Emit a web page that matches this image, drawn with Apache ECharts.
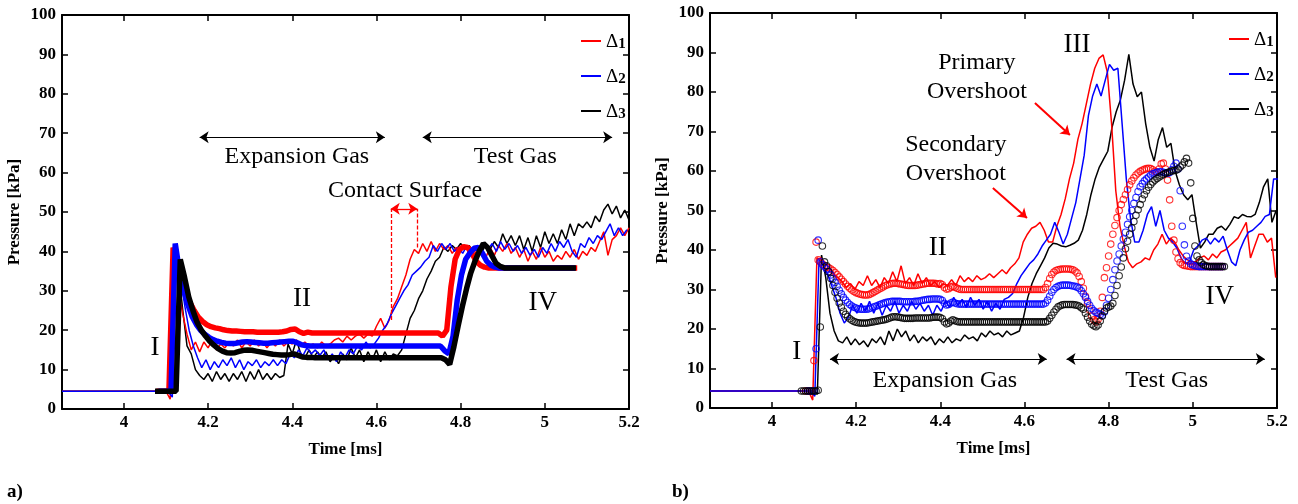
<!DOCTYPE html>
<html><head><meta charset="utf-8">
<script src="https://cdn.jsdelivr.net/npm/echarts@6/dist/echarts.min.js"></script>
<style>html,body{margin:0;padding:0;background:#fff}#c{width:1298px;height:504px}</style>
</head><body><div id="c"></div>
<script>
// ---------------- data ----------------
const xTicks = [4, 4.2, 4.4, 4.6, 4.8, 5, 5.2];
const seriesNames = ['Δ1', 'Δ2', 'Δ3'];
const baseA = 4.5;   // pre-shock pressure, panel a
const baseB = 4.3;   // pre-shock pressure, panel b
const DT = 0.01, DTS = 0.005;

// panel a) experiment (thin lines), uniform 0.01 ms from start time
const aExpRedStart = 4.10;
const aExpRed = [4.5,2.5,39,30,24,19,15,17,14.5,17, 15.5,17.5,15,16.5,15.5,17,16,17.5,15.5,17, 16,17.5,16,17,15.5,17,16,17.5,16,17,
 16.5,17.5,16,17,16,16.5,15.5,17,16,16.5, 17.5,18,17,18.5,17.5,18.5,19,18,19,18.5, 21,23,20.5,22.5,26,28,31,34,38,40.5,
 39.5,42,40,42.5,40,42,40.5,41.5,39.5,41, 40,41.5,39.5,41,38.5,40,38.5,41,39,41.5, 40,42,39.5,41,38.5,40.5,37.5,40,38,41,
 38.5,40,37.5,39,38,40,38.5,40.5,38,40, 39,41,40,42.5,45,39,43,44,46,44,46];
const aExpBlueStart = 4.105;
const aExpBlue = [4.5,3,40,33,26,20,16,13,10.5,12.5, 10,12,10.5,12.5,11,13,10.5,12.5,10,12, 11,12.5,10.5,12,11,12.5,11,12.5,11.5,14,
 13,15,13.5,15.5,14,15,13.5,15,12.5,14, 12,14.5,13,15,14,16,15,17,15.5,16.5, 18,20,21.5,24,26,28,30,31.5,34,35,
 36,37.5,38.5,41.5,40,42,40.5,42,40,41, 39.5,41.5,40,41,40,42,40.5,42,40,42.5, 40.5,42,40,41.5,39.5,41,39,40.5,38.5,41,
 39.5,42,40,42.5,41,43,40,38.5,42,41, 43.5,42,44,43,45,47,44,46,44,45.5];
const aExpBlackStart = 4.11;
const aExpBlack = [4.5,4,35,25,16,14,10,8.5,7.5,9, 7,9.5,7.5,9,7,9,7.5,9.5,7,9.5, 7.5,10,7.5,9,7.5,9,8,8.5,16.5,14,
 17.5,14,13,15,13,14.5,13,14.5,12,13.5, 11.5,14,12.5,15.5,13,15,12,14.5,12.5,15, 12,14.5,12.5,14,13.5,15,19,23,25,28,
 30,33,35,37.5,38.5,41,40,41.5,40.5,42, 40.5,41.5,40,41.5,39.5,42,40.5,42.5,41,44.5, 42,44,41.5,44,40.5,43.5,40,44,41,45,
 42,44.5,42,45.5,43,47,44,47,46,47.5, 46,49,47.5,50.5,52,49.5,51.5,48.5,50.5,48];

// panel a) simulation (thick lines), uniform 0.01 ms
const aSimRedStart = 4.077;
const aSimRed = [4.5,4.5,4.5,4.5,41,37,33,29.5,27,25, 23.3,22.2,21.4,20.9,20.6,20.4,20.1,19.9,19.8,19.8,
 19.7,19.6,19.6,19.6,19.5,19.5,19.5,19.5,19.5,19.5, 19.6,19.8,20.2,20.3,19.6,19.2,19.5,19.3,19.3,19.3,
 19.3,19.3,19.3,19.3,19.3,19.3,19.3,19.3,19.3,19.3, 19.3,19.3,19.3,19.3,19.3,19.3,19.3,19.3,19.3,19.3,
 19.3,19.3,19.3,19.3,19.3,19.3,19.3,19.3,18.5,20, 31,38,40.5,41.2,41,39.5,37.5,36.5,36,35.8,
 35.8,35.8,35.8,35.8,35.8,35.8,35.8,35.8,35.8,35.8, 35.8,35.8,35.8,35.8,35.8,35.8,35.8,35.8,35.8,35.8,35.8];
const aSimBlueStart = 4.082;
const aSimBlue = [4.5,4.5,4.5,4.5,42,35,30,26.5,23.5,21.5, 20,19,18.2,17.6,17.2,16.9,16.7,16.6,16.6,16.8,
 17,17.1,17,16.9,16.8,16.7,16.7,16.8,16.9,17, 17.1,17.2,17.2,16.8,16.3,16.1,16,16,16,16,
 16,16,16,16,16,16,16,16,16,16, 16,16,16,16,16,16,16,16,16,16,
 16,16,16,16,16,16,16,16,14.8,14, 18.5,27.7,34,38,39.6,40.8,41,39.5,37.5,36.5,
 36,35.8,35.8,35.8,35.8,35.8,35.8,35.8,35.8,35.8, 35.8,35.8,35.8,35.8,35.8,35.8,35.8,35.8,35.8,35.8];
const aSimBlackStart = 4.074;
const aSimBlack = [4.5,4.5,4.5,4.5,4.5,4.5,38,33.5,28.5,25, 22,20,18.5,17.2,16.2,15.3,14.7,14.3,14.2,14.3,
 14.6,14.9,15,14.9,14.7,14.5,14.3,14.1,13.9,13.8, 13.7,13.7,13.8,14,13.6,13.2,13.1,13.1,13,13,
 13,13,13,13,13,13,13,13,13,13, 13,13,13,13,13,13,13,13,13,13,
 13,13,13,13,13,13,13,13,13,12.5, 11.3,15.8,21,26,30.5,34.5,37.5,40,42,41,
 39,37,36.2,35.8,35.8,35.8,35.8,35.8,35.8,35.8, 35.8,35.8,35.8,35.8,35.8,35.8,35.8,35.8,35.8,35.8,35.8];

// panel b) experiment (thin lines), uniform 0.01 ms
const bExpRedStart = 4.087;
const bExpRed = [4.3,2,38,37.5,36.5,35.5,34,33,32,30.5, 31.5,30,32,31,33.5,31,32.5,30.5,33,31.5,
 34.5,32,36,31.5,33,31,34,31.5,33,31, 32,30.5,31.5,31,32.5,31,33.5,32,33,32,
 33.5,32.5,33,34,33,34,35,34,35.5,36.5, 38,42,44,45.5,46,47,45,42,42,46,
 49,53,58,62,68,72,77,82,86,88.5, 89.4,85,72,55,46,41,37,35.5,36.5,37,
 38,37.5,40,41.5,44,41.5,43,42,40,38.5, 37.5,37,37,38,38.5,37.5,39,38,39.5,40,
 41,42,43,45,47,38,41,44,44,42,43,33];
const bExpBlueStart = 4.092;
const bExpBlue = [4.3,3,37.5,36,34,31,28,24,21.5,23, 26,24,26.5,24.5,27,24,26.5,23.5,26,24.5,
 27,24,26,24.5,27,25,26.5,24.5,26,23.5, 26,24.5,27,25.5,28,26,27.5,25.5,28,26,
 27.5,25,27,24.5,26.5,25,27.5,28,29,31.5, 33.5,35,36.5,37.5,39,41,42.5,44,47,44.5,
 41.5,44,48,52,58,64,74,79,82,79, 83,87,85.5,86,72,58,48,42,42,45,
 49,51,46,50,45,43,42,40.5,38,36.5, 37,40,41,42.5,43,41.5,43,42,43.5,40,
 37,36,40,42.5,44.5,45,46,47,48.5,49,58,58];
const bExpBlackStart = 4.098;
const bExpBlack = [4.3,3.5,38.7,33,24,19.5,17,16.5,18,16, 17.5,16,17,15.5,17.5,16.5,18,16,19.5,17,
 20,18,19.5,17,18.5,16.5,18,17,18,16, 17.5,16.5,18,16.5,17.5,17,18.5,17.5,18,17,
 19,18,19.5,18.5,19,18,19.5,18.5,19,19.5, 23,28,31.5,34,36,38,40.5,41.7,41.5,41,
 40.8,41.2,41.7,42.5,45,49,54,58,61,63, 65,71,75,78,83,89.5,82,78.8,80,72,
 66,62.5,68,71,66,67,60,56.5,54,52.7, 54,47,40.5,42,44,44,45.5,46,45,46.5,
 48.4,48,49,48.5,48.4,49,52,56,58,47,50];

// panel b) simulation (circles), uniform 0.005 ms
const bSimRedStart = 4.080;
const bSimRed = [4.3,4.3,4.3,4.3,12,42,37.5,37,36.5,36, 35.7,35.5,35.2,34.8,34.3,33.8,33.2,32.6,32,31.4,
 30.8,30.3,29.9,29.5,29.2,29,28.8,28.7,28.6,28.6, 28.7,28.9,29.2,29.5,29.8,30.1,30.4,30.7,31,31.2,
 31.4,31.5,31.6,31.6,31.5,31.4,31.3,31.2,31.1,31, 31,31,31,31.1,31.2,31.3,31.4,31.5,31.6,31.6,
 31.6,31.6,31.5,31.4,31.5,31.2,30.5,30.1,30.2,30.6, 30.8,30.6,30.3,30.1,30,30,30,30,30,30,
 30,30,30,30,30,30,30,30,30,30, 30,30,30,30,30,30,30,30,30,30, 30,30,30,30,30,30,30,30,30,30,
 30,30,30,30,30.5,31.5,32.8,33.8,34.4,34.8, 35,35.1,35.2,35.2,35.2,35.2,35.1,35,34.7,34.2,
 33.3,32,30.3,28.3,26.5,24.8,23.3,22.3,21.8,22.5, 24.5,28,33,35.5,38.5,41.5,44,46.2,48.2,50,
 51.5,52.8,54,55.3,56.5,57.5,58.3,59,59.5,59.9, 60.2,60.4,60.6,60.7,60.6,60.3,59.9,59.7,60.5,61.8,
 62,60.5,57.7,52.7,46,42.5,39.5,37.8,36.8,36.3, 36.1,36,35.9,35.8,35.8,35.8,35.8,35.8,35.8,35.8,
 35.8,35.8,35.8,35.8,35.8,35.8,35.8,35.8,35.8];
const bSimBlueStart = 4.085;
const bSimBlue = [4.3,4.3,4.3,4.3,15,42.5,37,36.3,35.8,35.2, 34.5,33.7,32.8,31.8,30.8,29.8,28.9,28,27.3,26.7,
 26.2,25.8,25.5,25.3,25.1,25,25,25,25,25.1, 25.3,25.5,25.7,25.9,26.1,26.3,26.5,26.7,26.8,26.9,
 27,27,27,27,27,26.9,26.9,26.9,26.9,26.9, 26.9,27,27,27.1,27.2,27.3,27.4,27.5,27.5,27.6,
 27.6,27.6,27.6,27.5,27.2,26.5,26.1,26.2,26.6,26.8, 26.6,26.4,26.3,26.3,26.3,26.3,26.3,26.3,26.3,26.3,
 26.3,26.3,26.3,26.3,26.3,26.3,26.3,26.3,26.3,26.3, 26.3,26.3,26.3,26.3,26.3,26.3,26.3,26.3,26.3,26.3,
 26.3,26.3,26.3,26.3,26.3,26.3,26.3,26.3,26.3,26.3, 26.3,26.3,26.3,26.6,27.3,28.3,29.3,30,30.5,30.8,
 31,31.1,31.1,31.1,31.1,31,30.9,30.8,30.6,30.3, 29.7,28.9,28,27,26,25.2,24.6,24.2,24,23.7,
 23.5,24.3,26,27.8,30,32.5,35,37.2,39,41, 42.8,44.5,46.5,48.4,50,51.8,53.3,54.8,56,56.8,
 57.5,58,58.5,59,59.3,59.5,59.7,59.8,59.8,59.7, 59.5,59.4,59.6,60.3,61.2,62,60.5,55,46,41.3,
 38.4,37.2,36.5,36.2,36,35.9,35.8,35.8,35.8,35.8, 35.8,35.8,35.8,35.8,35.8,35.8,35.8,35.8];
const bSimBlackStart = 4.070;
const bSimBlack = [4.3,4.3,4.3,4.3,4.3,4.3,4.3,4.3,4.5,20.5, 41,37,36,34.5,32.8,31,29.3,27.8,26.6,25.5,
 24.5,23.7,23.1,22.6,22.2,21.9,21.7,21.6,21.5,21.5, 21.5,21.5,21.6,21.7,21.8,21.9,22,22.1,22.2,22.3,
 22.4,22.6,22.8,23,23.1,23.1,23,22.9,22.8,22.7, 22.7,22.7,22.7,22.7,22.8,22.8,22.8,22.8,22.8,22.8,
 22.8,22.8,22.9,23,23,23,22.9,22.6,21.8,21.3, 21.5,22,22.3,22.1,21.9,21.8,21.8,21.8,21.8,21.8,
 21.8,21.8,21.8,21.8,21.8,21.8,21.8,21.8,21.8,21.8, 21.8,21.8,21.8,21.8,21.8,21.8,21.8,21.8,21.8,21.8,
 21.8,21.8,21.8,21.8,21.8,21.8,21.8,21.8,21.8,21.8, 21.8,21.8,21.8,21.8,21.8,21.8,21.8,22,22.7,23.5,
 24.3,25,25.6,25.9,26.1,26.2,26.2,26.2,26.2,26.2, 26.1,26,25.8,25.4,25,24,23,22,21.2,20.8,
 20.6,21,22,23.3,24.5,25.3,25.6,25.8,26.5,28.5, 31,33.5,35.7,38,40.3,42.2,44,45.6,47.2,48.8,
 50.2,51.5,52.9,54,55,55.9,56.6,57.2,57.7,58.1, 58.5,58.8,59.1,59.4,59.6,59.8,60,60.1,60.2,60.5,
 61,61.5,62.3,63.2,62,57,48,41,38.5,37.5, 36.8,36.3,36,35.9,35.8,35.8,35.8,35.8,35.8,35.8,35.8,35.8];

// ---------------- chart ----------------
const FONT = '"Liberation Serif", "Times New Roman", serif';
const RED = '#ff0000', BLUE = '#0000ff', BLACK = '#000000';
const X_MIN = 3.853, X_MAX = 5.2;

function seq(start, step, vals, lead) {
  const out = vals.map((v, i) => [Math.round((start + i * step) * 10000) / 10000, v]);
  if (lead !== undefined) out.unshift([X_MIN, lead]);
  return out;
}

function xAxesFor(gi) {
  const common = {
    type: 'value', gridIndex: gi, min: X_MIN, max: X_MAX,
    axisLine: { show: true, onZero: false, lineStyle: { color: '#000', width: 2 } },
    axisTick: { show: true, inside: true, length: 6, customValues: xTicks, lineStyle: { color: '#000', width: 1.5 } },
    splitLine: { show: false }
  };
  return [
    Object.assign({}, common, {
      position: 'bottom',
      axisLabel: { show: true, customValues: xTicks, formatter: v => String(v), color: '#000',
        fontFamily: FONT, fontWeight: 'bold', fontSize: 17, margin: 5 },
      name: 'Time [ms]', nameLocation: 'middle', nameGap: 32,
      nameTextStyle: { color: '#000', fontFamily: FONT, fontWeight: 'bold', fontSize: 17 }
    }),
    Object.assign({}, common, { position: 'top', axisLabel: { show: false } })
  ];
}
function yAxesFor(gi) {
  const common = {
    type: 'value', gridIndex: gi, min: 0, max: 100, interval: 10,
    axisLine: { show: true, onZero: false, lineStyle: { color: '#000', width: 2 } },
    axisTick: { show: true, inside: true, length: 6, lineStyle: { color: '#000', width: 1.5 } },
    splitLine: { show: false }
  };
  return [
    Object.assign({}, common, {
      position: 'left',
      axisLabel: { show: true, color: '#000', fontFamily: FONT, fontWeight: 'bold', fontSize: 17, margin: 6 },
      name: 'Pressure [kPa]', nameLocation: 'middle', nameGap: 39, nameRotate: 90,
      nameTextStyle: { color: '#000', fontFamily: FONT, fontWeight: 'bold', fontSize: 17 }
    }),
    Object.assign({}, common, { position: 'right', axisLabel: { show: false } })
  ];
}

function expLine(name, color, data, xi, yi) {
  return { type: 'line', name, data, xAxisIndex: xi, yAxisIndex: yi, symbol: 'none', showSymbol: false,
    lineStyle: { color, width: 1.5 }, itemStyle: { color }, z: 2, silent: true };
}
function simLine(name, color, data) {
  return { type: 'line', name, data, xAxisIndex: 0, yAxisIndex: 0, symbol: 'none', showSymbol: false,
    lineStyle: { color, width: 5.5 }, itemStyle: { color }, z: 3, silent: true };
}
function simCircles(name, color, data) {
  return { type: 'scatter', name, data, xAxisIndex: 2, yAxisIndex: 2, symbol: 'circle', symbolSize: 6.5,
    itemStyle: { color: 'rgba(255,255,255,0)', borderColor: color, borderWidth: 1.1 }, z: 3, silent: true };
}

const textLabel = { show: true, position: 'inside', formatter: '{b}', color: '#000', fontFamily: FONT,
  fontSize: 24, lineHeight: 29, textBorderWidth: 0 };
const roman = { label: { fontSize: 27 } };
const blackArrow = { color: '#000', width: 1, type: 'solid' };
const redDash = { color: RED, width: 1.3, type: [4, 2] };
const redArrow = { color: RED, width: 2, type: 'solid' };

function annot(id, xi, yi, style, lines, texts) {
  const s = { type: 'line', name: 'annot' + id, data: [], xAxisIndex: xi, yAxisIndex: yi, silent: true, z: 5,
    markLine: { silent: true, animation: false, symbolSize: 9, label: { show: false },
      lineStyle: style, itemStyle: { color: style.color }, emphasis: { disabled: true }, data: lines } };
  if (texts) {
    s.markPoint = { silent: true, animation: false, symbol: 'circle', symbolSize: 1,
      itemStyle: { color: 'rgba(0,0,0,0)' }, label: textLabel, data: texts };
  }
  return s;
}
function arrow2(a, b) { return [{ coord: a, symbol: 'arrow' }, { coord: b, symbol: 'arrow' }]; }
function arrow1(a, b) { return [{ coord: a, symbol: 'none' }, { coord: b, symbol: 'arrow' }]; }
function plain(a, b) { return [{ coord: a, symbol: 'none' }, { coord: b, symbol: 'none' }]; }

const annotA = annot('A', 0, 0, blackArrow, [
  arrow2([4.18, 69], [4.62, 69]),
  arrow2([4.71, 69], [5.16, 69])
], [
  { name: 'Expansion Gas', coord: [4.411, 64] },
  { name: 'Test Gas', coord: [4.93, 64] },
  { name: 'Contact Surface', coord: [4.668, 55.5] },
  Object.assign({ name: 'I', coord: [4.074, 15.5] }, roman),
  Object.assign({ name: 'II', coord: [4.423, 28] }, roman),
  Object.assign({ name: 'IV', coord: [4.995, 27] }, roman)
]);
const annotAdash = annot('Ad', 0, 0, redDash, [
  plain([4.634, 22.6], [4.634, 50.8]),
  plain([4.697, 41], [4.697, 50.8])
]);
const annotAred = annot('Ar', 0, 0, { color: RED, width: 1.3, type: 'solid' }, [
  arrow2([4.634, 50.8], [4.697, 50.8])
]);
const annotB = annot('B', 2, 2, blackArrow, [
  arrow2([4.138, 12.4], [4.653, 12.4]),
  arrow2([4.70, 12.4], [5.171, 12.4])
], [
  { name: 'Expansion Gas', coord: [4.411, 7] },
  { name: 'Test Gas', coord: [4.938, 7] },
  { name: 'Primary\nOvershoot', coord: [4.487, 83.8] },
  { name: 'Secondary\nOvershoot', coord: [4.437, 63] },
  Object.assign({ name: 'III', coord: [4.725, 92] }, roman),
  Object.assign({ name: 'II', coord: [4.394, 40.5] }, roman),
  Object.assign({ name: 'I', coord: [4.059, 14.2] }, roman),
  Object.assign({ name: 'IV', coord: [5.064, 28] }, roman)
]);
const annotBred = annot('Br', 2, 2, redArrow, [
  arrow1([4.625, 77.2], [4.708, 69.1]),
  arrow1([4.525, 55.7], [4.606, 48.1])
]);

function legendAt(left, top) {
  return {
    data: seriesNames, left, top, orient: 'vertical', icon: 'rect', itemWidth: 20, itemHeight: 2,
    itemGap: 3, selectedMode: false, padding: 0,
    formatter: n => '{d|Δ}{s|' + n.slice(1) + '}',
    textStyle: { rich: {
      d: { fontFamily: FONT, fontSize: 19, color: '#000', verticalAlign: 'bottom', lineHeight: 22 },
      s: { fontFamily: FONT, fontSize: 15, fontWeight: 'bold', color: '#000', verticalAlign: 'bottom',
        lineHeight: 15, padding: [17, 0, 0, 0] }
    } }
  };
}

const option = {
  animation: false,
  backgroundColor: '#fff',
  grid: [
    { left: 62, top: 15, width: 567, height: 394 },
    { left: 710, top: 13, width: 567, height: 395 }
  ],
  xAxis: xAxesFor(0).concat(xAxesFor(1)),
  yAxis: yAxesFor(0).concat(yAxesFor(1)),
  legend: [legendAt(581, 20), legendAt(1229, 18)],
  series: [
    expLine('Δ3', BLACK, seq(aExpBlackStart, DT, aExpBlack, baseA), 0, 0),
    expLine('Δ1', RED, seq(aExpRedStart, DT, aExpRed, baseA), 0, 0),
    expLine('Δ2', BLUE, seq(aExpBlueStart, DT, aExpBlue, baseA), 0, 0),
    simLine('sim1', RED, seq(aSimRedStart, DT, aSimRed)),
    simLine('sim2', BLUE, seq(aSimBlueStart, DT, aSimBlue)),
    simLine('sim3', BLACK, seq(aSimBlackStart, DT, aSimBlack)),
    expLine('Δ3', BLACK, seq(bExpBlackStart, DT, bExpBlack, baseB), 2, 2),
    expLine('Δ1', RED, seq(bExpRedStart, DT, bExpRed, baseB), 2, 2),
    expLine('Δ2', BLUE, seq(bExpBlueStart, DT, bExpBlue, baseB), 2, 2),
    simCircles('sim1', RED, seq(bSimRedStart, DTS, bSimRed)),
    simCircles('sim2', BLUE, seq(bSimBlueStart, DTS, bSimBlue)),
    simCircles('sim3', BLACK, seq(bSimBlackStart, DTS, bSimBlack)),
    annotA, annotAdash, annotAred, annotB, annotBred
  ],
  graphic: [
    { type: 'text', left: 7, top: 483, style: { text: 'a)', font: 'bold 19px ' + FONT, fill: '#000' } },
    { type: 'text', left: 672, top: 483, style: { text: 'b)', font: 'bold 19px ' + FONT, fill: '#000' } }
  ]
};

const chart = echarts.init(document.getElementById('c'), null, { renderer: 'canvas' });
chart.setOption(option);
</script></body></html>
